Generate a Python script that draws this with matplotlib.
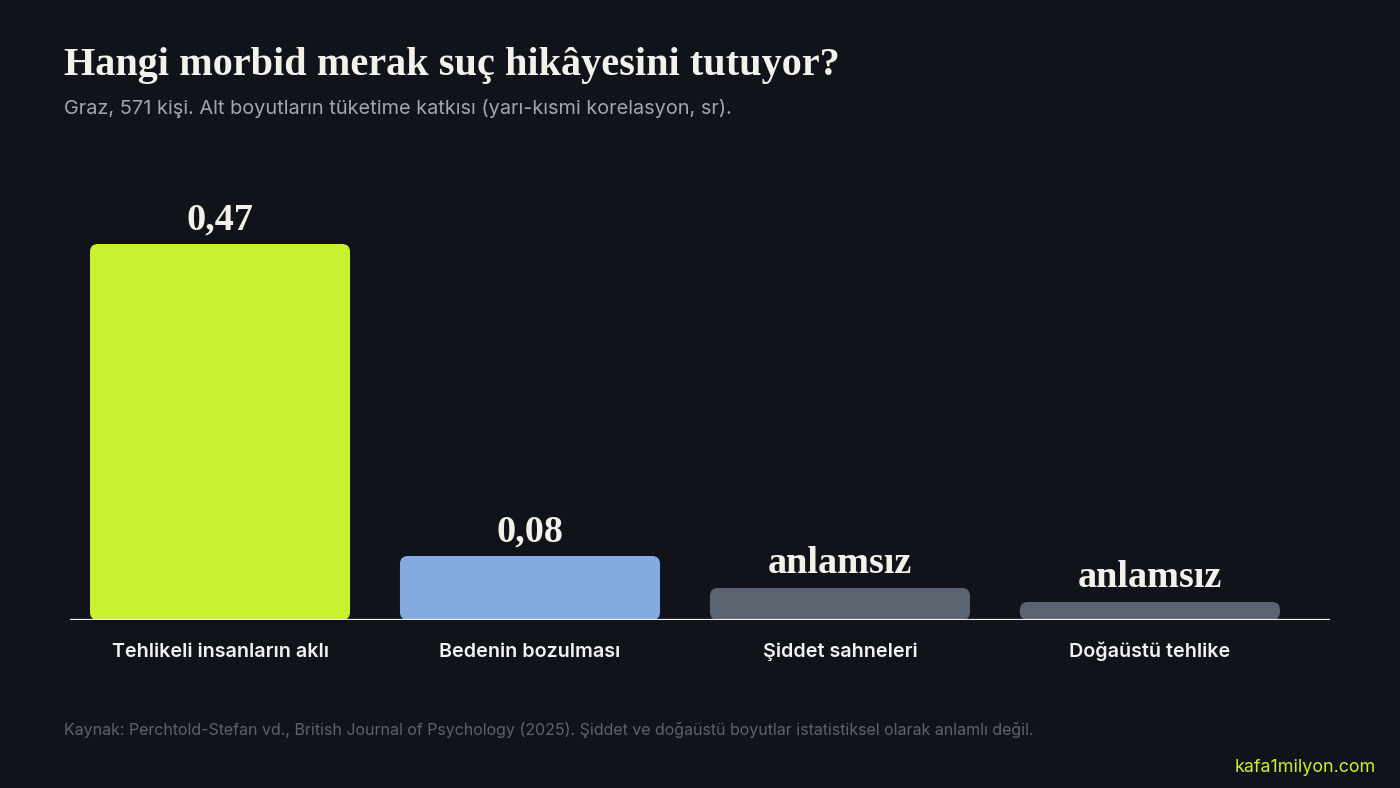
import matplotlib
matplotlib.use("Agg")
import matplotlib.pyplot as plt
from matplotlib.patches import FancyBboxPatch
from matplotlib.transforms import offset_copy

categories = ["Tehlikeli insanların aklı", "Bedenin bozulması", "Şiddet sahneleri", "Doğaüstü tehlike"]
values = [0.47, 0.08, 0.04, 0.0225]
value_labels = ["0,47", "0,08", "anlamsız", "anlamsız"]
bar_colors = ["#c9f22e", "#84aadf", "#5b6370", "#5b6370"]

title = "Hangi morbid merak suç hikâyesini tutuyor?"
subtitle = "Graz, 571 kişi. Alt boyutların tüketime katkısı (yarı-kısmi korelasyon, sr)."
source = "Kaynak: Perchtold-Stefan vd., British Journal of Psychology (2025). Şiddet ve doğaüstü boyutlar istatistiksel olarak anlamlı değil."
brand = "kafa1milyon.com"

BG = "#10131a"
W, H = 1400, 788
fig = plt.figure(figsize=(W / 100, H / 100), dpi=100, facecolor=BG)

ax_left, ax_right, base_px, top_px = 70, 1330, 620, 220
ax = fig.add_axes([ax_left / W, (H - base_px) / H, (ax_right - ax_left) / W, (base_px - top_px) / H])
ax.set_facecolor(BG)
ax.set_xlim(-0.484, 3.581)
ax.set_ylim(0, 0.5)
for s in ax.spines.values():
    s.set_visible(False)
ax.set_xticks([])
ax.set_yticks([])

width = 0.839
px_per_x = (ax_right - ax_left) / (3.581 + 0.484)
px_per_y = (base_px - top_px) / 0.5
r_px = 8
aspect = px_per_x / px_per_y
for i, (v, c) in enumerate(zip(values, bar_colors)):
    p = FancyBboxPatch((i - width / 2, 0), width, v,
                       boxstyle=f"round,pad=0,rounding_size={r_px / px_per_x}",
                       mutation_aspect=aspect, facecolor=c, edgecolor="none", zorder=2)
    ax.add_patch(p)
    trans = offset_copy(ax.transData, fig=fig, x=0, y=7, units="dots")
    ax.text(i, v, value_labels[i], transform=trans, ha="center", va="bottom",
            family="Liberation Serif", fontweight="bold", fontsize=27.5, color="#f4f1ea", zorder=3)
    ax.text(i, 0, categories[i], transform=offset_copy(ax.transData, fig=fig, x=0, y=-37, units="dots"),
            ha="center", va="baseline", family="Inter", fontweight="semibold", fontsize=14.2, color="#f2f2f2")

ax.axhline(0, color="#f2f2f2", lw=1.6, zorder=4)

fig.text(64 / W, 1 - 66 / H, title, family="Liberation Serif", fontweight="bold", fontsize=29,
         color="#f4f1ea", va="center", ha="left")
fig.text(64 / W, 1 - 108 / H, subtitle, family="Inter", fontsize=14.35, color="#a3a6ad", va="center", ha="left")
fig.text(64 / W, 1 - 730 / H, source, family="Inter", fontsize=11.5, color="#5d626b", va="center", ha="left")
fig.text(1376 / W, 1 - 768 / H, brand, family="Inter", fontsize=12.9, color="#c9f22e", va="center", ha="right")

fig.savefig("out.png", dpi=100, facecolor=BG)
